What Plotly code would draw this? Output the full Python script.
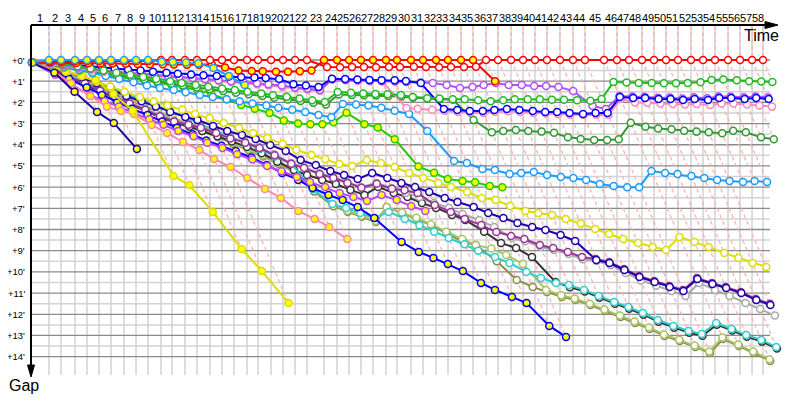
import plotly.graph_objects as go

# ---------------- data ----------------
# leader's elapsed time (minutes) at the end of each lap, lap 0 = start
leader_time_min = [0.00, 1.99, 3.32, 4.87, 6.20, 7.53, 8.86, 10.30, 11.63, 12.96, 14.40,
                   15.61, 17.05, 18.38, 19.82, 21.15, 22.48, 23.92, 25.14, 26.58, 27.91,
                   29.24, 30.56, 32.45, 33.89, 35.22, 36.54, 37.87, 39.31, 40.53, 42.08,
                   43.41, 44.85, 46.18, 47.62, 48.95, 50.39, 51.72, 53.16, 54.49, 55.81,
                   57.14, 58.58, 60.02, 61.35, 63.46, 64.89, 66.22, 67.66, 68.99, 70.32,
                   71.65, 73.09, 74.42, 75.75, 77.19, 78.52, 79.85, 81.06]
lap_labels = [str(n) for n in range(1, 59)]
gap_ticks = [0, 1, 2, 3, 4, 5, 6, 7, 8, 9, 10, 11, 12, 13, 14]
gap_tick_labels = ["+0'", "+1'", "+2'", "+3'", "+4'", "+5'", "+6'", "+7'", "+8'", "+9'",
                   "+10'", "+11'", "+12'", "+13'", "+14'"]
start_gap = 0.12

# gap to leader (minutes) at the end of each lap, from lap 1
gap_red_1 = [0.05, 0.05, 0.05, 0.05, 0.05, 0.05, 0.05, 0.05, 0.05, 0, 0, 0, 0, 0, 0, 0, 0, 0, 0, 0,
             0, 0, 0.33, 0.34, 0.33, 0.33, 0.34, 0.33, 0.33, 0.32, 0.33, 0.34, 0.33, 0.33, 0.32,
             0, 0, 0, 0, 0, 0, 0, 0, 0, 0, 0, 0, 0, 0, 0, 0, 0, 0, 0, 0, 0, 0, 0]
gap_red_2 = [0.1, 0.12, 0.14, 0.15, 0.16, 0.17, 0.18, 0.19, 0.2, 0.2, 0.21, 0.22, 0.22, 0.2, 0.35,
             0.5, 0.52, 0.53, 0.55, 0.55, 0.53, 0.5, 0, 0, 0, 0, 0, 0, 0, 0, 0, 0, 0, 0, 0, 1.0]
gap_lblue_2 = [0, 0, 0, 0, 0, 0, 0, 0, 0, 0.08, 0.1, 0.12, 0.15, 0.38, 0.75, 1.18]
gap_lblue_1 = [0.15, 0.3, 0.45, 0.6, 0.75, 0.9, 1.05, 1.2, 1.32, 1.42, 1.52, 1.65, 1.75, 1.85, 1.95,
               2.05, 2.15, 2.25, 2.35, 2.45, 2.6, 2.7, 2.08, 2.1, 2.15, 2.25, 2.4, 2.55, 3.35, 4.77,
               4.86, 5.14, 5.19, 5.38, 5.33, 5.29, 5.43, 5.52, 5.57, 5.66, 5.85, 5.95, 6.0, 6.0,
               5.24, 5.33, 5.38, 5.47, 5.57, 5.66, 5.71, 5.76, 5.71, 5.76]
gap_green_1 = [0.1, 0.2, 0.3, 0.4, 0.5, 0.6, 0.7, 0.8, 0.9, 1.0, 1.08, 1.18, 1.26, 1.34, 1.42, 1.5,
               1.58, 1.66, 1.74, 1.82, 1.9, 1.98, 1.51, 1.55, 1.58, 1.6, 1.62, 1.65, 1.75, 1.8,
               1.82, 1.85, 1.85, 1.9, 1.95, 1.9, 1.85, 1.85, 1.85, 1.87, 1.88, 1.9, 1.92, 1.84,
               1.04, 1.06, 1.08, 1.08, 1.1, 1.1, 1.08, 1.05, 0.94, 0.92, 0.96, 1.0, 1.02, 1.04]
gap_green_2 = [0.2, 0.35, 0.5, 0.62, 0.72, 0.8, 0.87, 0.94, 1.09, 1.18, 1.3, 1.42, 1.6, 1.85, 2.12,
               2.3, 2.5, 2.85, 3.0, 3.03, 3.03, 2.94, 2.49, 3.03, 3.18, 3.74, 5.03, 5.32, 5.62,
               5.71, 5.77, 5.95, 6.01]
gap_dgreen = [0.22, 0.32, 0.42, 0.52, 0.62, 0.72, 0.82, 0.92, 1.02, 1.12, 1.2, 1.3, 1.38, 1.46,
              1.54, 1.62, 1.7, 1.78, 1.86, 1.94, 2.02, 2.1, 1.63, 1.65, 1.66, 1.68, 1.7, 1.72,
              1.78, 1.82, 1.85, 1.88, 2.83, 3.41, 3.35, 3.30, 3.35, 3.38, 3.43, 3.65, 3.73, 3.78,
              3.78, 3.74, 2.96, 3.15, 3.23, 3.27, 3.34, 3.38, 3.41, 3.46, 3.34, 3.41, 3.65, 3.74]
gap_blue_1 = [0.1, 0.18, 0.25, 0.3, 0.35, 0.4, 0.45, 0.5, 0.55, 0.6, 0.65, 0.68, 0.72, 0.75, 0.78,
              0.8, 0.82, 0.85, 0.9, 1.15, 1.2, 1.28, 0.88, 0.9, 0.92, 0.94, 0.95, 0.96, 0.99, 1.09,
              2.31, 2.36, 2.41, 2.41, 2.36, 2.31, 2.36, 2.41, 2.45, 2.45, 2.5, 2.55, 2.5, 2.5,
              1.75, 1.79, 1.79, 1.84, 1.84, 1.89, 1.84, 1.89, 1.79, 1.79, 1.84, 1.79, 1.84]
gap_blue_2 = [0.5, 0.9, 1.3, 1.65, 2.0, 2.3, 2.6, 2.9, 3.2, 3.5, 3.8, 4.05, 4.3, 4.6, 4.96, 5.33,
              5.66, 6.04, 6.37, 6.61, 6.94, 7.46, 8.59, 9.06, 9.34, 9.63, 9.96, 10.52, 10.85,
              11.18, 11.47, 12.55, 13.07]
gap_violet_1 = [0.15, 0.25, 0.35, 0.42, 0.5, 0.55, 0.6, 0.65, 0.7, 0.75, 0.8, 0.85, 0.9, 0.95, 1.0,
                1.05, 1.1, 1.15, 1.2, 1.3, 1.35, 1.42, 0.92, 0.95, 0.97, 0.99, 1.0, 1.02, 1.04,
                1.06, 1.09, 1.18, 1.32, 1.27, 1.18, 1.09, 1.18, 1.18, 1.23, 1.23, 1.27, 1.46,
                2.17, 2.31, 1.7, 1.72, 1.73, 1.78, 1.77, 1.82, 1.76, 1.8, 1.72, 1.72, 1.76, 1.72, 1.76]
gap_violet_2 = [0.7, 1.2, 1.65, 1.95, 2.2, 2.5, 2.8, 3.05, 3.35, 3.6, 3.9, 4.15, 4.45, 4.7, 5.0,
                5.25, 5.52, 5.76, 5.99, 6.28, 6.47, 6.65, 6.37, 6.61, 6.89, 7.13]
gap_pink_1 = [0.2, 0.3, 0.4, 0.5, 0.55, 0.6, 0.65, 0.7, 0.75, 0.8, 0.85, 0.9, 0.95, 1.0, 1.05, 1.1,
              1.15, 1.2, 1.28, 1.35, 1.4, 1.45, 0.9, 0.92, 0.95, 0.97, 1.0, 2.27, 2.3, 2.35, 2.4,
              2.45, 2.48, 2.5, 2.45, 2.42, 2.45, 2.5, 2.52, 2.55, 2.58, 2.6, 2.58, 2.6, 1.84, 2.0,
              2.02, 2.05, 2.08, 2.1, 2.08, 2.12, 2.05, 2.05, 2.1, 2.15, 2.2]
gap_pink_2 = [0.5, 1.1, 1.7, 2.2, 2.41, 2.55, 3.07, 3.44, 3.87, 4.25, 4.67, 5.05, 5.57, 6.09, 6.51,
              7.13, 7.5, 7.88, 8.45]
gap_yellow_1 = [0.3, 0.5, 0.75, 1.0, 1.25, 1.5, 1.75, 1.95, 2.15, 2.35, 2.55, 2.74, 2.97, 3.21,
                3.44, 3.68, 3.96, 4.25, 4.48, 4.67, 4.91, 5.0, 4.72, 4.86, 5.05, 5.33, 5.57, 5.8,
                5.99, 6.23, 6.51, 6.61, 6.89, 7.13, 7.22, 7.31, 7.5, 7.72, 7.98, 8.21, 8.45, 8.64,
                8.82, 8.97, 8.35, 8.59, 8.82, 9.11, 9.34, 9.58, 9.77]
gap_yellow_2 = [0.3, 0.55, 0.75, 0.95, 1.6, 2.4, 5.47, 5.9, 7.17, 8.92, 9.96, 11.47]
gap_navy_1 = [0.25, 0.5, 0.8, 1.1, 1.4, 1.7, 1.95, 2.2, 2.45, 2.69, 2.83, 3.11, 3.35, 3.54, 3.73,
              4.01, 4.29, 4.72, 4.96, 5.24, 5.43, 5.62, 5.33, 5.57, 5.8, 5.99, 6.23, 6.51, 6.7,
              6.94, 7.22, 7.46, 7.69, 7.88, 8.02, 8.26, 8.54, 9.44, 9.58, 9.91, 10.24, 10.48,
              10.71, 10.9, 10.34, 10.57, 10.76, 11.0, 11.33, 11.56]
gap_navy_2 = [0.6, 1.5, 2.45, 2.97, 4.2]
gap_magenta = [0.4, 0.75, 1.1, 1.45, 1.75, 2.05, 2.35, 2.65, 2.9, 3.05, 3.2, 3.45, 3.7, 3.9, 4.15,
               4.5, 4.9, 5.1, 5.38, 5.57, 5.8, 6.03, 5.84, 6.08, 6.15, 6.28, 6.84, 7.17, 7.5, 7.79,
               8.12, 8.31, 8.45, 8.73, 8.87, 9.06, 9.30, 9.39, 9.53, 9.86, 10.19, 10.43, 10.66,
               10.85, 10.29, 10.52, 10.71, 10.95, 11.28, 11.5]
gap_silver = [0.35, 0.7, 1.05, 1.4, 1.7, 2.0, 2.3, 2.6, 2.85, 3.0, 3.15, 3.4, 3.65, 3.85, 4.1, 4.45,
              4.86, 5.05, 5.33, 5.52, 5.76, 5.99, 5.8, 6.04, 6.28, 6.47, 6.75, 6.98, 7.27, 7.55,
              7.88, 8.4, 8.55, 8.83, 8.97, 9.16, 9.4, 9.49, 9.68, 10.05, 10.4, 10.65, 10.9, 11.14,
              10.52, 10.85, 11.14, 11.47, 11.75, 12.06]
gap_black = [0.4, 0.8, 1.15, 1.5, 1.8, 2.1, 2.4, 2.7, 2.95, 3.15, 3.35, 3.6, 3.85, 4.1, 4.4, 4.8,
             5.19, 5.43, 5.66, 5.85, 6.13, 6.37, 5.99, 6.28, 6.47, 6.75, 6.98, 7.31, 7.55, 8.1,
             8.64, 8.87, 9.3, 10.48, 10.72, 10.93, 11.22, 11.5, 11.74, 12.02, 12.35, 12.63, 12.87,
             13.01, 12.49, 12.77, 13.06, 13.29, 13.62]
gap_turquoise = [0.3, 0.55, 0.8, 1.05, 1.3, 1.6, 1.85, 2.1, 2.4, 2.7, 3.0, 3.3, 3.6, 3.9, 4.2,
                 4.55, 4.9, 6.1, 6.8, 6.98, 7.22, 7.46, 7.17, 7.5, 7.8, 8.1, 8.4, 8.7, 9.0, 9.3,
                 9.58, 10.0, 10.29, 10.52, 10.62, 10.85, 11.14, 11.42, 11.66, 11.94, 12.27, 12.55,
                 12.79, 12.93, 12.41, 12.69, 12.98, 13.21, 13.54]
gap_olive = [0.35, 0.65, 0.95, 1.25, 1.55, 1.85, 2.15, 2.45, 2.75, 3.05, 3.35, 3.65, 3.95, 4.25,
             4.55, 4.9, 5.3, 6.2, 6.9, 7.17, 7.4, 7.65, 6.94, 7.22, 7.5, 7.8, 8.2, 8.59, 8.73, 9.5,
             10.38, 10.71, 10.95, 11.18, 11.33, 11.56, 11.85, 12.13, 12.41, 12.69, 13.02, 13.26,
             13.54, 13.83, 13.17, 13.5, 13.83, 14.2]
gap_ygreen = [0.3, 0.6, 0.9, 1.2, 1.5, 1.8, 2.1, 2.4, 2.7, 3.0, 3.3, 3.6, 3.9, 4.2, 4.5, 4.85,
              5.25, 6.1, 6.8, 7.1, 7.35, 7.6, 6.94, 7.2, 7.45, 7.75, 8.1, 8.45, 8.73, 8.9, 9.2,
              9.63, 10.85, 11.1, 11.26, 11.5, 11.78, 12.06, 12.34, 12.62, 12.95, 13.2, 13.47,
              13.76, 13.1, 13.43, 13.76, 14.12]

# ---------------- styles ----------------
WHITE, YELLOW = "#ffffff", "#ffff00"
cars = [  # drawn back to front
    (gap_olive, "#8c8c4a", WHITE),
    (gap_ygreen, "#a9c463", WHITE),
    (gap_black, "#333333", WHITE),
    (gap_turquoise, "#33cccc", WHITE),
    (gap_silver, "#aaaaaa", WHITE),
    (gap_magenta, "#993399", WHITE),
    (gap_navy_1, "#2200aa", WHITE),
    (gap_yellow_1, "#dddd00", WHITE),
    (gap_blue_2, "#0000ff", YELLOW),
    (gap_violet_2, "#c040ff", YELLOW),
    (gap_pink_2, "#ff88aa", YELLOW),
    (gap_yellow_2, "#dddd00", YELLOW),
    (gap_navy_2, "#2200aa", YELLOW),
    (gap_green_2, "#22cc00", YELLOW),
    (gap_dgreen, "#339933", WHITE),
    (gap_lblue_1, "#1e9bff", WHITE),
    (gap_pink_1, "#ff88bb", WHITE),
    (gap_violet_1, "#b050ff", WHITE),
    (gap_blue_1, "#0000ff", WHITE),
    (gap_green_1, "#22bb22", WHITE),
    (gap_red_2, "#ff0000", YELLOW),
    (gap_red_1, "#ff0000", WHITE),
    (gap_lblue_2, "#1e9bff", YELLOW),
]

# pixel geometry -> axis ranges (x: minutes, y: minutes of gap)
PX_X = 0.11074      # minutes per pixel horizontally
PX_Y = 1 / 21.19    # minutes per pixel vertically
AX_TOP = -35 * PX_Y          # top axis line
AX_BOTTOM = 317 * PX_Y       # tip of down arrow
AX_RIGHT = 747 * PX_X        # tip of right arrow
GRID_RIGHT = 739 * PX_X      # horizontal grid end
GRID_BOTTOM = 315 * PX_Y     # vertical grid end

fig = go.Figure()

# lap lines (dashed): vertical above 0, then slanted to the last car on that lap
all_gaps = [c[0] for c in cars]
for n in range(1, len(leader_time_min)):
    t = leader_time_min[n]
    gmax = max([g[n - 1] for g in all_gaps if len(g) >= n] + [0])
    col = "#bbbbbb" if n == 1 else "#ffadad"
    fig.add_trace(go.Scatter(x=[t, t, t + gmax], y=[AX_TOP, 0, gmax], mode="lines",
                             line=dict(color=col, width=1.2, dash="4px,3px"),
                             hoverinfo="skip", showlegend=False))

for gaps, col, fill in cars:
    g = [start_gap] + gaps
    x = [t + v for t, v in zip(leader_time_min, g)]
    fig.add_trace(go.Scatter(x=x, y=g, mode="lines+markers",
                             line=dict(color=col, width=2),
                             marker=dict(size=7, color=fill, line=dict(color=col, width=1.5)),
                             hoverinfo="skip", showlegend=False))

shapes = []
for t in leader_time_min[1:]:
    shapes.append(dict(type="line", x0=t, x1=t, y0=AX_TOP, y1=GRID_BOTTOM, layer="below",
                       line=dict(color="#d2d2d2", width=1.5)))
for i in gap_ticks[:-1]:
    shapes.append(dict(type="line", x0=0, x1=GRID_RIGHT, y0=i + 0.5, y1=i + 0.5, layer="below",
                       line=dict(color="#d2d2d2", width=1.5)))
for i in gap_ticks:
    shapes.append(dict(type="line", x0=0, x1=GRID_RIGHT, y0=i, y1=i, layer="below",
                       line=dict(color="#8a8a8a", width=1.3)))
# axes with arrows
shapes.append(dict(type="line", x0=0, x1=AX_RIGHT - 10 * PX_X, y0=AX_TOP, y1=AX_TOP,
                   line=dict(color="black", width=2)))
shapes.append(dict(type="line", x0=0, x1=0, y0=AX_TOP, y1=AX_BOTTOM - 10 * PX_Y,
                   line=dict(color="black", width=2)))
shapes.append(dict(type="path", fillcolor="black", line=dict(color="black", width=1),
                   path="M %f,%f L %f,%f L %f,%f Z" % (AX_RIGHT, AX_TOP,
                                                      AX_RIGHT - 13 * PX_X, AX_TOP - 3.5 * PX_Y,
                                                      AX_RIGHT - 13 * PX_X, AX_TOP + 3.5 * PX_Y)))
shapes.append(dict(type="path", fillcolor="black", line=dict(color="black", width=1),
                   path="M %f,%f L %f,%f L %f,%f Z" % (0, AX_BOTTOM,
                                                      -3.5 * PX_X, AX_BOTTOM - 12 * PX_Y,
                                                      3.5 * PX_X, AX_BOTTOM - 12 * PX_Y)))

ann = []
for n, lab in enumerate(lap_labels, start=1):
    xm = (leader_time_min[n - 1] + leader_time_min[n]) / 2
    ann.append(dict(x=xm, y=AX_TOP, text=lab, showarrow=False, yanchor="bottom", yshift=-1,
                    font=dict(family="Liberation Sans", size=11, color="black")))
for v, lab in zip(gap_ticks, gap_tick_labels):
    ann.append(dict(x=0, y=v, text=lab, showarrow=False, xanchor="right", xshift=-4,
                    font=dict(family="Liberation Sans", size=9.5, color="black")))
ann.append(dict(x=730 * PX_X, y=-25 * PX_Y, text="Time", showarrow=False,
                font=dict(family="Liberation Sans", size=16, color="black")))
ann.append(dict(xref="paper", yref="paper", x=-0.003, y=0.0, text="Gap", showarrow=False,
                xanchor="center", yanchor="middle",
                font=dict(family="Liberation Sans", size=16, color="black")))

# page body adds an 8px offset, so the figure is 792x392 with margins shifted accordingly
fig.update_layout(
    width=792, height=392,
    margin=dict(l=18, r=12, t=12, b=15),
    paper_bgcolor="white", plot_bgcolor="white",
    xaxis=dict(range=[-5 * PX_X, 757 * PX_X], visible=False, fixedrange=True),
    yaxis=dict(range=[325 * PX_Y, -40 * PX_Y], visible=False, fixedrange=True),
    shapes=shapes, annotations=ann, showlegend=False,
)
fig.write_html("out.html")
